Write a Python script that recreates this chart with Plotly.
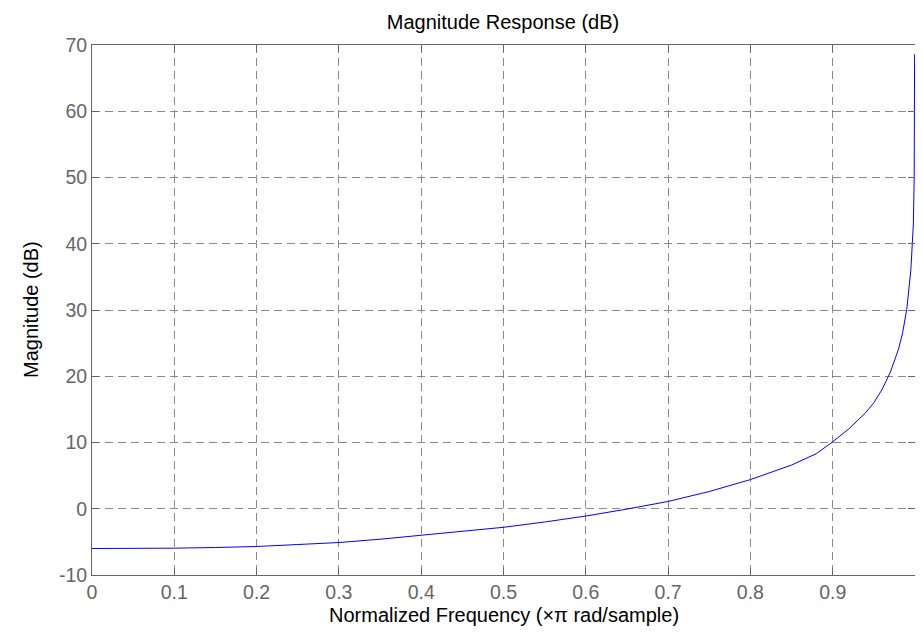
import plotly.graph_objects as go

# normalized frequency (x pi rad/sample) and magnitude (dB)
freq = [0.0, 0.05, 0.1, 0.15, 0.2, 0.25, 0.3, 0.35, 0.4, 0.45, 0.5, 0.55, 0.6,
        0.65, 0.7, 0.75, 0.8, 0.85, 0.88, 0.9, 0.92, 0.94, 0.95, 0.96, 0.97,
        0.98, 0.985, 0.99, 0.995, 0.998, 0.999, 0.9995]
mag_db = [-6.0, -6.0, -5.95, -5.85, -5.7, -5.4, -5.1, -4.6, -4.0, -3.45, -2.8,
          -2.0, -1.1, -0.05, 1.1, 2.6, 4.4, 6.6, 8.3, 10.1, 12.1, 14.5, 16.0,
          18.0, 20.6, 24.1, 26.6, 30.1, 36.1, 43.0, 50.0, 68.6]

x_ticks = [0, 0.1, 0.2, 0.3, 0.4, 0.5, 0.6, 0.7, 0.8, 0.9]
x_labels = ['0', '0.1', '0.2', '0.3', '0.4', '0.5', '0.6', '0.7', '0.8', '0.9']
y_ticks = [-10, 0, 10, 20, 30, 40, 50, 60, 70]
y_labels = ['-10', '0', '10', '20', '30', '40', '50', '60', '70']

FONT = 'Liberation Sans, Arial'

fig = go.Figure()
fig.add_trace(go.Scatter(x=freq, y=mag_db, mode='lines',
                         line=dict(color='#0000ff', width=1), showlegend=False))

# matlab-like box axes, inward ticks, dashed grid
axis_common = dict(
    showline=True, linecolor='#666666', linewidth=1, mirror='ticks',
    ticks='inside', ticklen=7, tickcolor='#666666',
    showgrid=True, gridcolor='#8a8a8a', griddash='8px,5px', gridwidth=1,
    zeroline=False, automargin=False,
    tickfont=dict(family=FONT, size=19.5, color='#666666'),
)

fig.update_xaxes(range=[0, 1.0], tickvals=x_ticks, ticktext=x_labels, **axis_common)
fig.update_yaxes(range=[-10, 70], tickvals=y_ticks, ticktext=y_labels, **axis_common)

# axis labels placed as annotations for exact positioning
fig.add_annotation(text='Normalized Frequency (×π rad/sample)', xref='paper', yref='paper',
                   x=0.5, y=0, xanchor='center', yanchor='middle', yshift=-40,
                   showarrow=False, font=dict(family=FONT, size=20, color='#000000'))
fig.add_annotation(text='Magnitude (dB)', xref='paper', yref='paper',
                   x=0, y=0.5, xanchor='center', yanchor='middle', xshift=-61,
                   textangle=-90, showarrow=False,
                   font=dict(family=FONT, size=20, color='#000000'))

fig.update_layout(
    width=911, height=619,
    margin=dict(l=84, r=4, t=37, b=52),
    plot_bgcolor='white', paper_bgcolor='white',
    title=dict(text='Magnitude Response (dB)', x=495 / 911, xanchor='center',
               y=1 - 14 / 619, yanchor='middle',
               font=dict(family=FONT, size=20, color='#000000')),
)

fig.write_html("out.html")
